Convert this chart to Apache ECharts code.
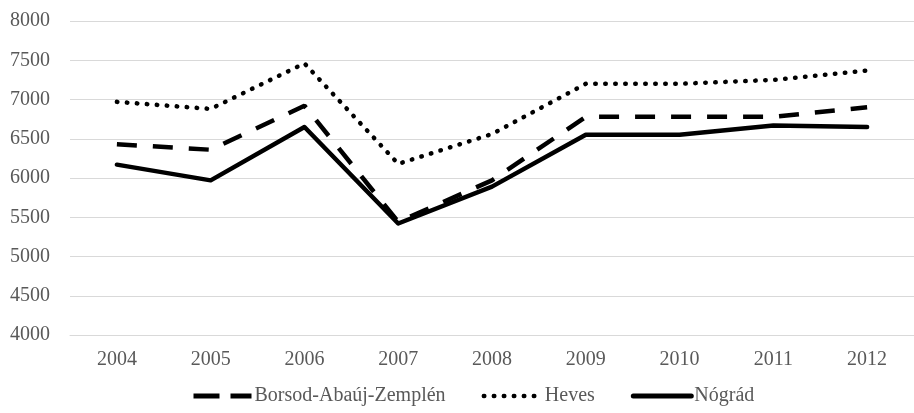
<!DOCTYPE html>
<html>
<head>
<meta charset="utf-8">
<script src="https://cdn.jsdelivr.net/npm/echarts@6/dist/echarts.min.js"></script>
<style>
  html, body { margin: 0; padding: 0; background: #fff; }
  #chart { width: 914px; height: 413px; }
</style>
</head>
<body>
<div id="chart"></div>
<script>
var years = ['2004', '2005', '2006', '2007', '2008', '2009', '2010', '2011', '2012'];
var borsod = [6430, 6360, 6920, 5440, 5970, 6780, 6780, 6780, 6900];
var heves = [6970, 6880, 7460, 6180, 6560, 7200, 7200, 7250, 7370];
var nograd = [6170, 5970, 6650, 5420, 5890, 6550, 6550, 6670, 6650];

var font = '"Liberation Serif", "Times New Roman", serif';
var myChart = echarts.init(document.getElementById('chart'));

var option = {
    animation: false,
    textStyle: { fontFamily: font },
    grid: {
        left: 70,
        right: 0,
        top: 21,
        bottom: 78,
        containLabel: false,
        outerBoundsMode: 'none'
    },
    legend: {
        left: 186,
        top: 381,
        itemWidth: 58,
        itemHeight: 16,
        itemGap: 36,
        itemStyle: { opacity: 0 },
        textStyle: { fontFamily: font, fontSize: 20, color: '#595959', padding: [0, 0, 0, -2] },
        data: [
            { name: 'Borsod-Abaúj-Zemplén', lineStyle: { color: '#000', width: 5, type: [26, 11], cap: 'butt' } },
            { name: 'Heves', lineStyle: { color: '#000', width: 4.5, type: [0.5, 9.5], cap: 'round' } },
            { name: 'Nógrád', lineStyle: { color: '#000', width: 5, type: 'solid' } }
        ]
    },
    xAxis: {
        type: 'category',
        data: years,
        boundaryGap: true,
        axisLine: { lineStyle: { color: '#d9d9d9', width: 1 } },
        axisTick: { show: false },
        axisLabel: { color: '#595959', fontSize: 20, fontFamily: font, margin: 15 }
    },
    yAxis: {
        type: 'value',
        min: 4000,
        max: 8000,
        interval: 500,
        axisLine: { show: false },
        axisTick: { show: false },
        splitLine: { lineStyle: { color: '#d9d9d9', width: 1 } },
        axisLabel: {
            color: '#595959', fontSize: 20, fontFamily: font, margin: 20,
            formatter: function (v) { return String(v); }
        }
    },
    series: [
        {
            name: 'Borsod-Abaúj-Zemplén',
            type: 'line',
            data: borsod,
            symbol: 'none',
            lineStyle: { color: '#000', width: 4.5, type: [20, 16], cap: 'butt' },
            itemStyle: { color: '#000' }
        },
        {
            name: 'Heves',
            type: 'line',
            data: heves,
            symbol: 'none',
            lineStyle: { color: '#000', width: 4.5, type: [0.5, 9.5], cap: 'round' },
            itemStyle: { color: '#000' }
        },
        {
            name: 'Nógrád',
            type: 'line',
            data: nograd,
            symbol: 'none',
            lineStyle: { color: '#000', width: 4.5, cap: 'round', join: 'round' },
            itemStyle: { color: '#000' }
        }
    ]
};

myChart.setOption(option);
</script>
</body>
</html>
